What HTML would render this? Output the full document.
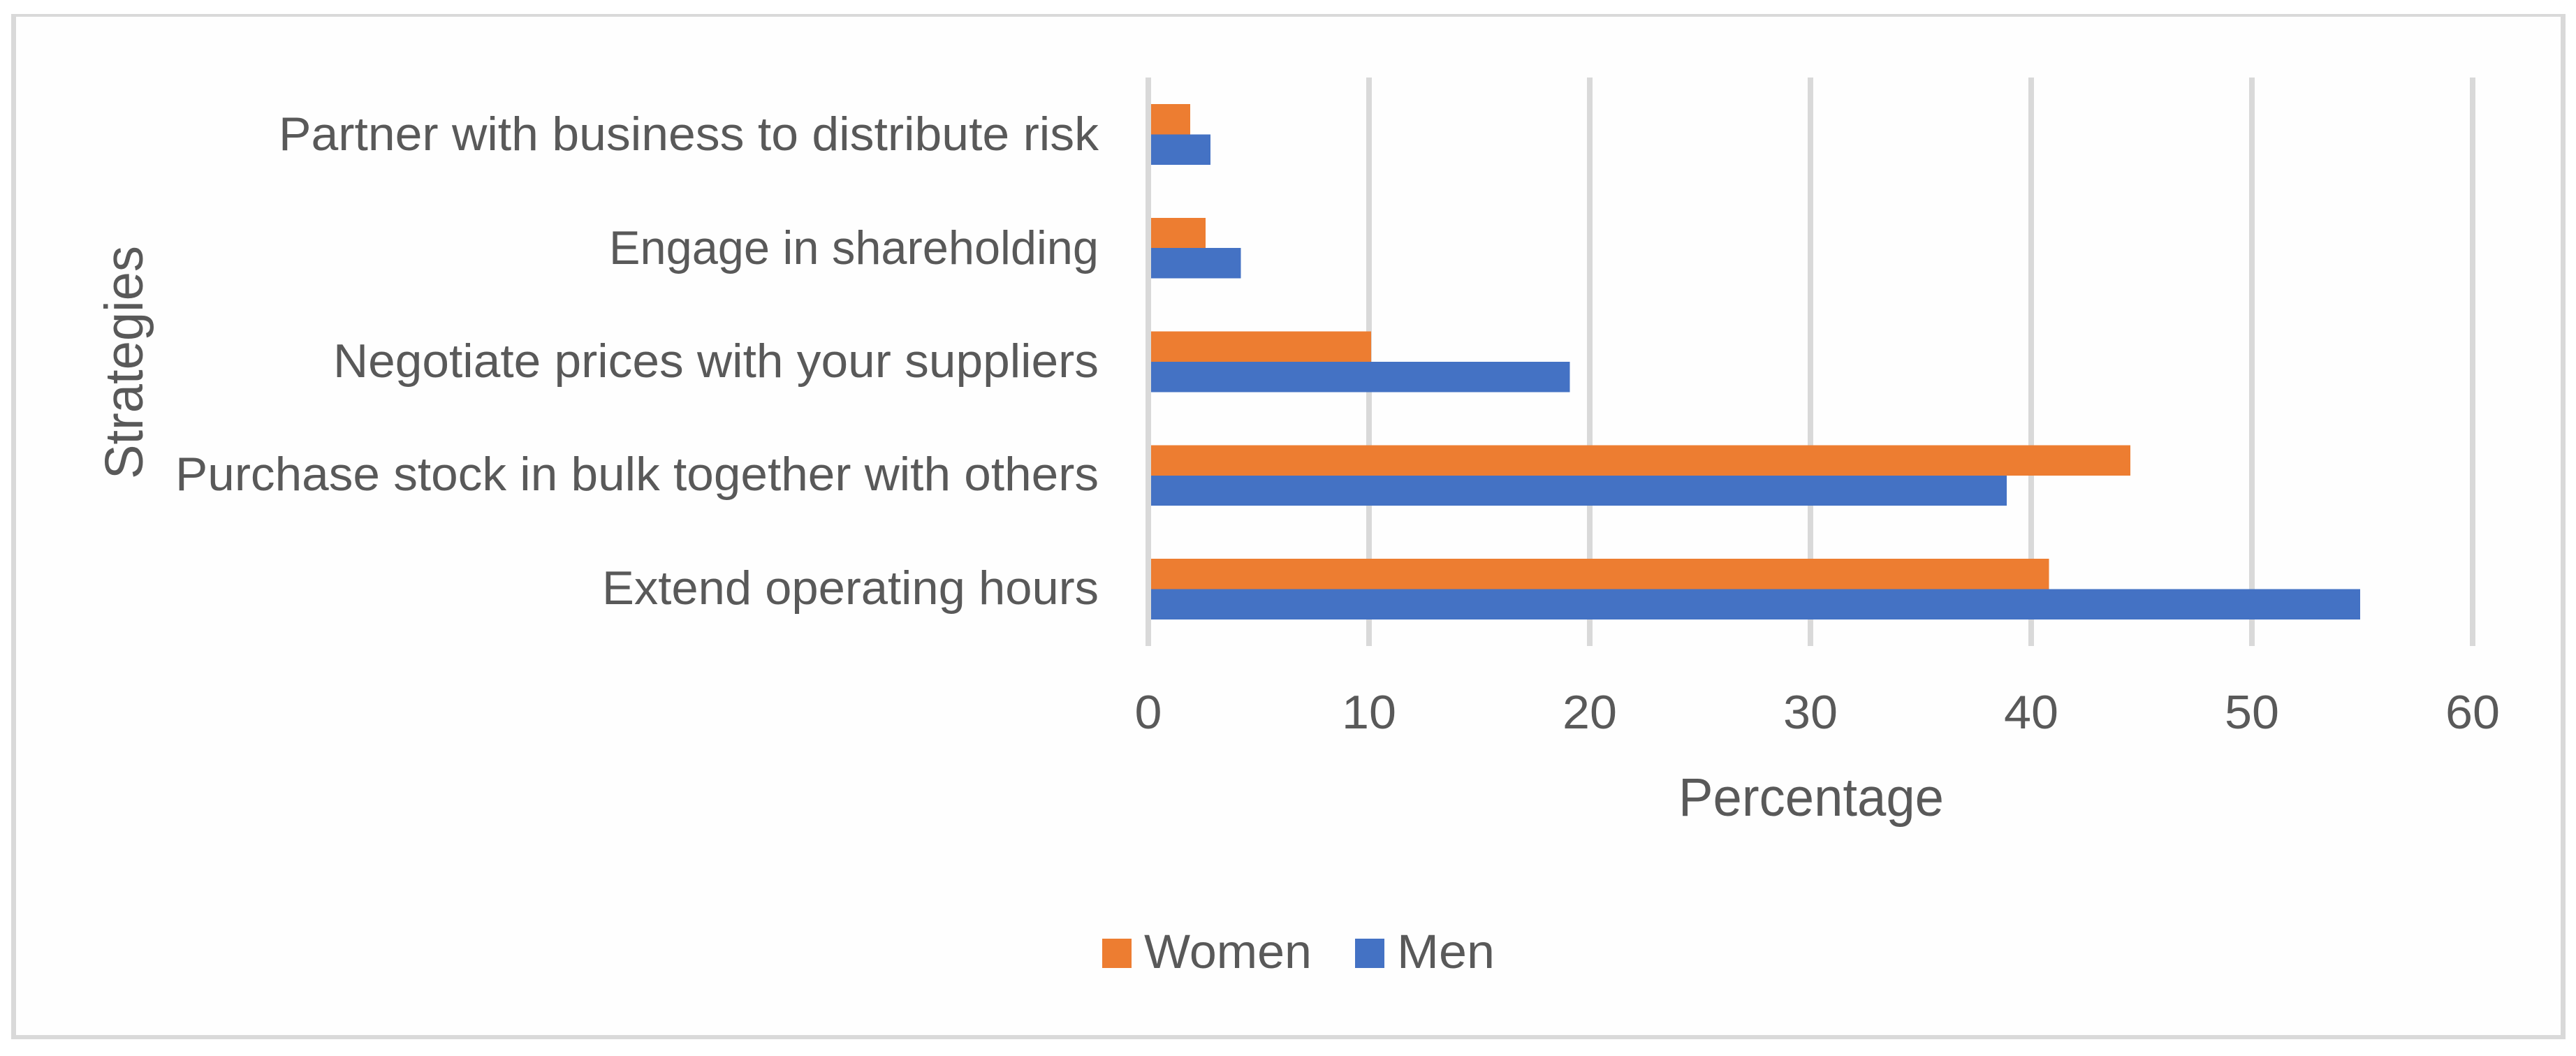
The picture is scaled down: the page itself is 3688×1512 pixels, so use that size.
<!DOCTYPE html>
<html lang="en">
<head>
<meta charset="utf-8">
<title>Strategies by gender</title>
<style>
  html, body { margin: 0; padding: 0; background: #ffffff; }
  #stage { position: relative; width: 3688px; height: 1512px; overflow: hidden; background: #ffffff; }
  #frame { position: absolute; left: 16px; top: 20px; width: 3657px; height: 1468px; box-sizing: border-box;
           border-style: solid; border-color: #d9d9d9; border-width: 4px 7px 6px 7px; background: #fefefe; }
  svg { position: absolute; left: 0; top: 0; }
  text { font-family: "Liberation Sans", sans-serif; fill: #595959; }
</style>
</head>
<body>
<div id="stage">
  <div id="frame"></div>
  <svg id="chart" width="3688" height="1512" viewBox="0 0 3688 1512" xmlns="http://www.w3.org/2000/svg">
    <g id="grid"></g>
    <g id="bars"></g>
    <g id="ticks"></g>

    <g font-size="68">
      <text x="399" y="215" textLength="1174" lengthAdjust="spacingAndGlyphs">Partner with business to distribute risk</text>
      <text x="872" y="378" textLength="701" lengthAdjust="spacingAndGlyphs">Engage in shareholding</text>
      <text x="477" y="540" textLength="1096" lengthAdjust="spacingAndGlyphs">Negotiate prices with your suppliers</text>
      <text x="251" y="702" textLength="1322" lengthAdjust="spacingAndGlyphs">Purchase stock in bulk together with others</text>
      <text x="862" y="865" textLength="711" lengthAdjust="spacingAndGlyphs">Extend operating hours</text>
    </g>

    <text x="2403" y="1168" font-size="77" textLength="380" lengthAdjust="spacingAndGlyphs">Percentage</text>
    <text transform="translate(204,686) rotate(-90)" x="0" y="0" font-size="77" textLength="334" lengthAdjust="spacingAndGlyphs">Strategies</text>

    <g>
      <rect x="1578" y="1344" width="42" height="42" fill="#ed7d31" shape-rendering="crispEdges"></rect>
      <text x="1638" y="1386" font-size="69" textLength="240" lengthAdjust="spacingAndGlyphs">Women</text>
      <rect x="1940" y="1344" width="42" height="42" fill="#4472c4" shape-rendering="crispEdges"></rect>
      <text x="2000" y="1386" font-size="69" textLength="140" lengthAdjust="spacingAndGlyphs">Men</text>
    </g>
  </svg>
</div>
<script>
const categories = ["Extend operating hours", "Purchase stock in bulk together with others", "Negotiate prices with your suppliers", "Engage in shareholding", "Partner with business to distribute risk"];
const womenValues = [40.8, 44.5, 10.1, 2.6, 1.9];
const menValues = [54.9, 38.9, 19.1, 4.2, 2.82];
const tickValues = [0, 10, 20, 30, 40, 50, 60];

const NS = "http://www.w3.org/2000/svg";
const plotLeft = 1644, plotRight = 3540, plotTop = 111, plotBottom = 925;
const axisMax = 60;
const barStart = 1648;

function xScale(v) {
  return plotLeft + (v / axisMax) * (plotRight - plotLeft);
}
function bandHeight() {
  return (plotBottom - plotTop) / categories.length;
}
function bandCenter(i) {
  return plotBottom - (i + 0.5) * bandHeight();
}
const barHeight = bandHeight() / 3.75;

function make(tag, attrs, parent) {
  const el = document.createElementNS(NS, tag);
  for (const k in attrs) el.setAttribute(k, attrs[k]);
  parent.appendChild(el);
  return el;
}

const gridGroup = document.getElementById("grid");
const ticksGroup = document.getElementById("ticks");
tickValues.forEach(function (t) {
  const line = make("line", { x1: xScale(t), x2: xScale(t), y1: plotTop, y2: plotBottom, stroke: "#d9d9d9", "stroke-width": 8, "shape-rendering": "crispEdges" }, gridGroup);
  
  

  const label = String(t);
  const w = label.length * 39;
  const txt = make("text", { x: xScale(t) - w / 2, y: 1043, "font-size": 68, textLength: w, lengthAdjust: "spacingAndGlyphs" }, ticksGroup);
  txt.textContent = label;
  
  
});

const barsGroup = document.getElementById("bars");
categories.forEach(function (c, i) {
  const cy = bandCenter(i);

  const men = make("rect", { x: barStart, y: cy, width: Math.max(0, xScale(menValues[i]) - barStart), height: barHeight, fill: "#4472c4", "shape-rendering": "crispEdges" }, barsGroup);
  
  

  const women = make("rect", { x: barStart, y: cy - barHeight, width: Math.max(0, xScale(womenValues[i]) - barStart), height: barHeight, fill: "#ed7d31", "shape-rendering": "crispEdges" }, barsGroup);
  
  
});
</script>
</body>
</html>
